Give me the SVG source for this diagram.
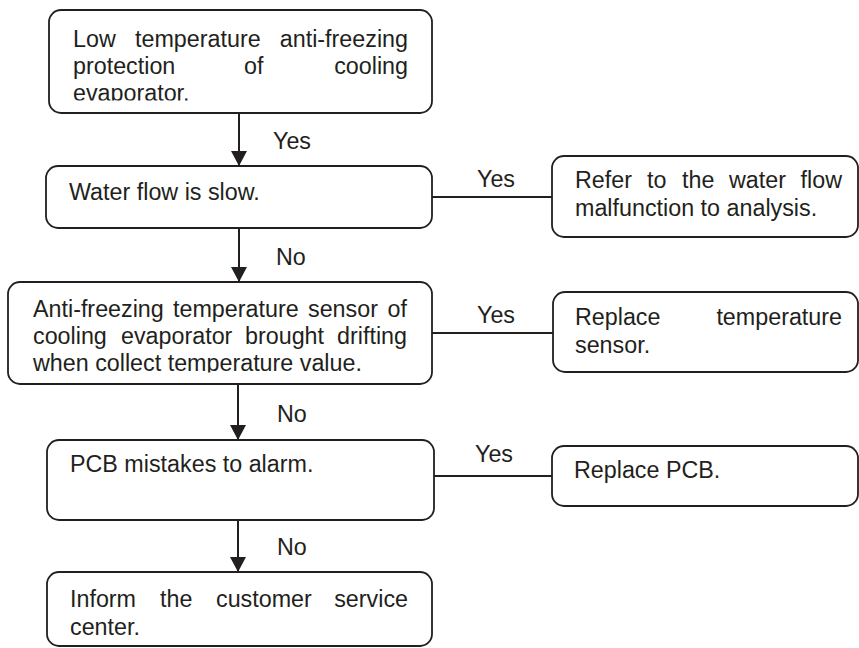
<svg xmlns="http://www.w3.org/2000/svg" width="859" height="648" viewBox="0 0 859 648">
<style>
.box{fill:#fff;stroke:#231f20;stroke-width:1.8}
text{font-family:"Liberation Sans",Arial,sans-serif;font-size:23.3px;fill:#231f20}
.e{text-anchor:end}
.ln{stroke:#231f20;stroke-width:2;fill:none}
</style>
<defs>
<marker id="ah" viewBox="0 0 15 16" refX="15" refY="8" markerWidth="15" markerHeight="16" markerUnits="userSpaceOnUse" orient="auto">
<path d="M0,0 L15,8 L0,16 Z" fill="#231f20"/>
</marker>
<clipPath id="c1"><rect x="49" y="10" width="383" height="90.5"/></clipPath>
<clipPath id="c3"><rect x="8" y="282" width="424" height="90.5"/></clipPath>
</defs>
<rect width="859" height="648" fill="#fff"/>
<g id="connectors">
<line class="ln" x1="239" y1="113" x2="239" y2="166" marker-end="url(#ah)"/>
<text x="273" y="149">Yes</text>
<line class="ln" x1="239" y1="228" x2="239" y2="282" marker-end="url(#ah)"/>
<text x="276" y="265">No</text>
<line class="ln" x1="238" y1="384" x2="238" y2="440" marker-end="url(#ah)"/>
<text x="277" y="422">No</text>
<line class="ln" x1="238" y1="520" x2="238" y2="572" marker-end="url(#ah)"/>
<text x="277" y="555">No</text>
<line class="ln" x1="432" y1="197" x2="552" y2="197"/>
<text x="477" y="187">Yes</text>
<line class="ln" x1="432" y1="333" x2="553" y2="333"/>
<text x="477" y="323">Yes</text>
<line class="ln" x1="434" y1="476" x2="552" y2="476"/>
<text x="475" y="462">Yes</text>
</g>
<g id="n1">
<rect class="box" x="49" y="10" width="383" height="103" rx="12"/>
<g clip-path="url(#c1)">
<text y="47"><tspan x="73">Low</tspan><tspan x="135">temperature</tspan><tspan x="408" class="e">anti-freezing</tspan></text>
<text y="74"><tspan x="73">protection</tspan><tspan x="244">of</tspan><tspan x="408" class="e">cooling</tspan></text>
<text x="73" y="101">evaporator.</text>
</g>
</g>
<g id="n2">
<rect class="box" x="46" y="166" width="386" height="62" rx="12"/>
<text x="69" y="200">Water flow is slow.</text>
</g>
<g id="n3">
<rect class="box" x="552" y="156" width="306" height="81" rx="12"/>
<text y="188"><tspan x="575">Refer</tspan><tspan x="647">to</tspan><tspan x="682">the</tspan><tspan x="729">water</tspan><tspan x="842" class="e">flow</tspan></text>
<text x="575" y="216">malfunction to analysis.</text>
</g>
<g id="n4">
<rect class="box" x="8" y="282" width="424" height="102" rx="12"/>
<g clip-path="url(#c3)">
<text y="317"><tspan x="33">Anti-freezing</tspan><tspan x="173">temperature</tspan><tspan x="308">sensor</tspan><tspan x="407" class="e">of</tspan></text>
<text y="344"><tspan x="33">cooling</tspan><tspan x="121">evaporator</tspan><tspan x="245">brought</tspan><tspan x="407" class="e">drifting</tspan></text>
<text x="33" y="371">when collect temperature value.</text>
</g>
</g>
<g id="n5">
<rect class="box" x="553" y="292" width="305" height="80" rx="12"/>
<text y="325"><tspan x="575">Replace</tspan><tspan x="842" class="e">temperature</tspan></text>
<text x="575" y="353">sensor.</text>
</g>
<g id="n6">
<rect class="box" x="47" y="440" width="387" height="80" rx="12"/>
<text x="70" y="472">PCB mistakes to alarm.</text>
</g>
<g id="n7">
<rect class="box" x="552" y="446" width="306" height="60" rx="12"/>
<text x="574" y="478">Replace PCB.</text>
</g>
<g id="n8">
<rect class="box" x="47" y="572" width="385" height="74" rx="12"/>
<text y="607"><tspan x="70">Inform</tspan><tspan x="160">the</tspan><tspan x="216">customer</tspan><tspan x="408" class="e">service</tspan></text>
<text x="70" y="635">center.</text>
</g>
</svg>
